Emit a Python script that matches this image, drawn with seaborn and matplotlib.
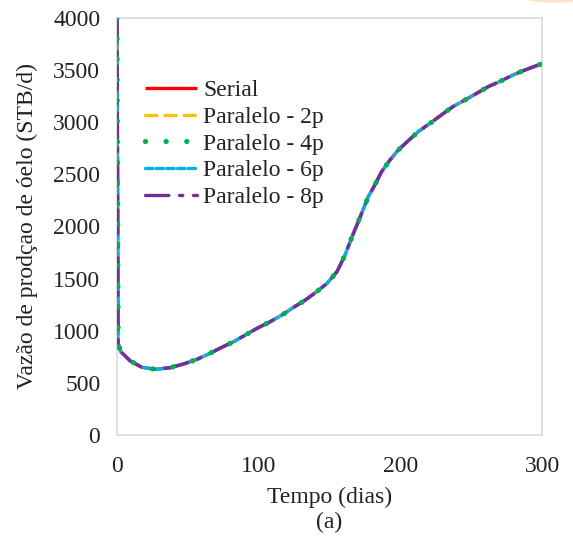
import numpy as np
import pandas as pd
import matplotlib
matplotlib.use("Agg")
import matplotlib.pyplot as plt
from matplotlib.patches import Ellipse
import seaborn as sns

# Tempo (dias) e vazão de óleo (STB/d)
tempo = [0, 0.8, 2.6, 9.4, 17.6, 27, 37.6, 47, 56.5, 64.7, 74, 82.3, 90.6, 98.8,
         108.2, 116.5, 124.7, 133, 141, 148.3, 155.3, 161, 166.4, 170.3, 177.4,
         182, 186.8, 192.7, 198.6, 205.6, 212.7, 221, 229, 237, 245.6, 254, 262,
         270, 279.5, 288, 297.4, 300]
vazao = [4000, 880, 800, 710, 649, 630, 646, 681, 726, 777, 841, 895, 959, 1023,
         1087, 1151, 1225, 1295, 1375, 1455, 1567, 1727, 1918, 2046, 2286,
         2398, 2526, 2638, 2734, 2823, 2910, 2990, 3070, 3149, 3213, 3278, 3341,
         3389, 3453, 3501, 3549, 3560]

series = ["Serial", "Paralelo - 2p", "Paralelo - 4p", "Paralelo - 6p", "Paralelo - 8p"]
cores = ["#FF0000", "#FFC000", "#00B050", "#00B0F0", "#7030A0"]
estilos = ["-", (0, (3.4, 2.4)), (0, (0.01, 3.9)), (0, (2.2, 1.0)), (0, (7, 3.2, 1, 3.2))]
larguras = [2.4, 2.4, 3.8, 2.4, 2.4]
ordem = [2, 3, 6, 4, 5]

sns.set_theme(style="white")
plt.rcParams['font.family'] = ['Liberation Serif', 'DejaVu Serif']

fig = plt.figure(figsize=(5.73, 5.43), dpi=100)
ax = fig.add_axes([0.2042, 0.1989, 0.7417, 0.7680])

for nome, cor, ls, lw, z in zip(series, cores, estilos, larguras, ordem):
    sns.lineplot(x=tempo, y=vazao, ax=ax, color=cor, linestyle=ls, linewidth=lw,
                 label=nome, dash_capstyle='round', solid_capstyle='butt', zorder=z)

ax.set_xlim(0, 300)
ax.set_ylim(0, 4000)
ax.set_xticks([0, 100, 200, 300])
ax.set_yticks(np.arange(0, 4001, 500))
ax.tick_params(axis='x', length=0, pad=15, labelsize=17, colors='#222222')
ax.tick_params(axis='y', length=0, pad=12, labelsize=17, colors='#222222')
for s in ax.spines.values():
    s.set_color('#D9D9D9')
    s.set_linewidth(1.2)

ax.set_xlabel("Tempo (dias)\n(a)", fontsize=17, color='#222222', labelpad=7, linespacing=1.25)
ax.set_ylabel("Vazão de prodçao de óelo (STB/d)", fontsize=17, color='#222222', labelpad=11)

leg = ax.legend(loc='upper left', bbox_to_anchor=(0.066, 0.852), frameon=False,
                fontsize=17, handlelength=2.2, handletextpad=0.25, labelspacing=0.22,
                borderpad=0, borderaxespad=0)
for t in leg.get_texts():
    t.set_color('#222222')

fig.patches.append(Ellipse((0.97, 1.01), 0.14, 0.03, transform=fig.transFigure,
                           facecolor='#FBE3C6', edgecolor='none', figure=fig))

fig.savefig("out.png", dpi=100)
